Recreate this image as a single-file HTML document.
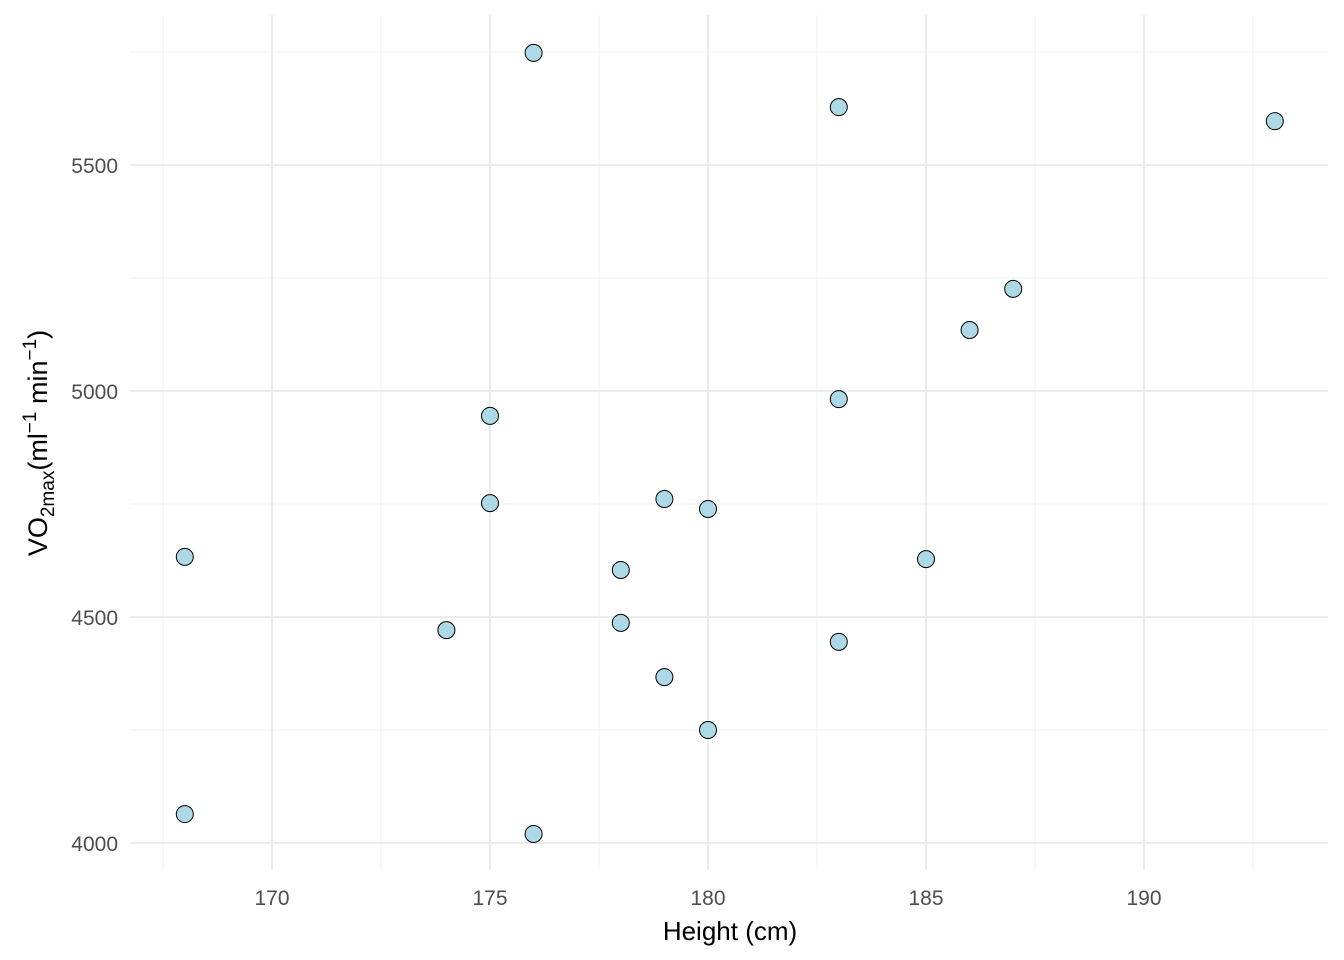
<!DOCTYPE html>
<html><head><meta charset="utf-8"><style>
body{margin:0;background:#fff;}
svg{display:block;font-family:"Liberation Sans",sans-serif;}
</style></head><body>
<svg id="chart" width="1344" height="960">
<g id="grid"></g>
<g id="axes"></g>
<g id="pts"></g>
<text x="730" y="940" text-anchor="middle" font-size="26" fill="#000">Height (cm)</text>
<text transform="translate(47,443) rotate(-90)" text-anchor="middle" font-size="27" fill="#000">VO<tspan font-size="19" dy="7">2max</tspan><tspan dy="-7">(ml</tspan><tspan font-size="19" dy="-11">−1</tspan><tspan dy="11"> min</tspan><tspan font-size="19" dy="-11">−1</tspan><tspan dy="11">)</tspan></text>
</svg>
<script>
const heights=[168,168,174,175,175,176,176,178,178,179,179,180,180,183,183,183,185,186,187,193];
const vo2=[4633,4064,4471,4945,4752,5748,4020,4604,4487,4761,4367,4739,4250,5628,4982,4445,4628,5135,5226,5597];
const xTicks=[170,175,180,185,190];
const yTicks=[4000,4500,5000,5500];
const xMinor=[167.5,172.5,177.5,182.5,187.5,192.5];
const yMinor=[4250,4750,5250,5750];
const NS="http://www.w3.org/2000/svg";
const sx=v=>272+(v-170)*43.6;
const sy=v=>843-(v-4000)*0.452;
const L=130,R=1328,T=15,B=870;
function el(t,a,p){const e=document.createElementNS(NS,t);for(const k in a)e.setAttribute(k,a[k]);p.appendChild(e);return e;}
const g=document.getElementById('grid'),ax=document.getElementById('axes'),pg=document.getElementById('pts');
xMinor.forEach(v=>{const e=el('line',{x1:sx(v),x2:sx(v),y1:T,y2:B,stroke:'#f0f0f0','stroke-width':1},g);

});
yMinor.forEach(v=>{const e=el('line',{x1:L,x2:R,y1:sy(v),y2:sy(v),stroke:'#f0f0f0','stroke-width':1},g);

});
xTicks.forEach(v=>{const e=el('line',{x1:sx(v),x2:sx(v),y1:T,y2:B,stroke:'#ebebeb','stroke-width':2},g);


const t=el('text',{x:sx(v),y:905,'text-anchor':'middle','font-size':21,fill:'#4d4d4d'},ax);t.textContent=v;

});
yTicks.forEach(v=>{const e=el('line',{x1:L,x2:R,y1:sy(v),y2:sy(v),stroke:'#ebebeb','stroke-width':2},g);


const t=el('text',{x:118,y:sy(v)+8,'text-anchor':'end','font-size':21,fill:'#4d4d4d'},ax);t.textContent=v;

});
heights.forEach((h,i)=>{const c=el('circle',{cx:sx(h),cy:sy(vo2[i]),r:8.5,fill:'#add8e6',stroke:'#000','stroke-width':1},pg);

});
</script>
</body></html>
